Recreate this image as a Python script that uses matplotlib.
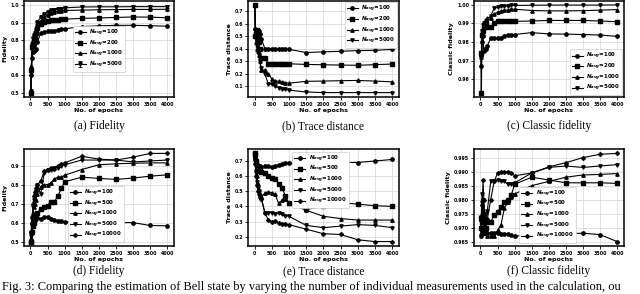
import numpy as np
import matplotlib
matplotlib.use("Agg")
import matplotlib.pyplot as plt

plt.rcParams['font.family'] = ['DejaVu Sans']
plt.rcParams['font.weight'] = 'bold'
plt.rcParams['mathtext.fontset'] = 'dejavusans'

# epochs at which the estimates were recorded
ep = [10, 25, 50, 75, 100, 125, 150, 200, 300, 400, 500, 600, 700, 800, 900,
      1000, 1500, 2000, 2500, 3000, 3500, 4000]

# top row: N_avg = 100, 200, 1000, 5000
navg_top = [100, 200, 1000, 5000]
fid_a = [
    [0.50, 0.60, 0.70, 0.73, 0.74, 0.745, 0.75, 0.79, 0.84, 0.845, 0.85, 0.85, 0.855, 0.86, 0.865, 0.865, 0.878, 0.882, 0.885, 0.885, 0.883, 0.880],
    [0.50, 0.63, 0.76, 0.78, 0.80, 0.82, 0.84, 0.87, 0.89, 0.905, 0.912, 0.915, 0.917, 0.918, 0.920, 0.920, 0.925, 0.927, 0.930, 0.933, 0.932, 0.928],
    [0.50, 0.65, 0.76, 0.80, 0.82, 0.83, 0.85, 0.90, 0.91, 0.93, 0.945, 0.955, 0.960, 0.965, 0.968, 0.970, 0.972, 0.974, 0.975, 0.976, 0.976, 0.977],
    [0.51, 0.62, 0.77, 0.81, 0.83, 0.84, 0.86, 0.905, 0.93, 0.95, 0.96, 0.97, 0.975, 0.978, 0.980, 0.985, 0.990, 0.991, 0.991, 0.992, 0.992, 0.992],
]
fid_a_err = [0]*10 + [0.008]*6 + [0.01]*6

td_b = [
    [0.75, 0.56, 0.55, 0.55, 0.55, 0.54, 0.52, 0.48, 0.40, 0.40, 0.40, 0.40, 0.40, 0.395, 0.395, 0.395, 0.37, 0.375, 0.38, 0.385, 0.387, 0.395],
    [0.75, 0.50, 0.52, 0.55, 0.50, 0.45, 0.40, 0.33, 0.33, 0.28, 0.275, 0.28, 0.28, 0.28, 0.28, 0.28, 0.275, 0.272, 0.27, 0.268, 0.273, 0.278],
    [0.75, 0.50, 0.45, 0.40, 0.38, 0.35, 0.30, 0.23, 0.23, 0.20, 0.16, 0.145, 0.14, 0.135, 0.13, 0.125, 0.14, 0.142, 0.145, 0.147, 0.142, 0.136],
    [0.75, 0.55, 0.48, 0.42, 0.38, 0.35, 0.30, 0.25, 0.20, 0.12, 0.115, 0.10, 0.09, 0.08, 0.075, 0.07, 0.055, 0.05, 0.05, 0.05, 0.05, 0.05],
]

cf_c = [
    [0.973, 0.967, 0.980, 0.983, 0.975, 0.976, 0.976, 0.978, 0.982, 0.982, 0.982, 0.982, 0.983, 0.984, 0.984, 0.984, 0.985, 0.9843, 0.9842, 0.984, 0.9837, 0.983],
    [0.974, 0.953, 0.984, 0.986, 0.988, 0.989, 0.990, 0.988, 0.988, 0.990, 0.991, 0.991, 0.991, 0.991, 0.991, 0.991, 0.9912, 0.9915, 0.9915, 0.9915, 0.9912, 0.9908],
    [0.973, 0.972, 0.985, 0.987, 0.990, 0.990, 0.990, 0.993, 0.993, 0.995, 0.996, 0.9965, 0.997, 0.997, 0.9975, 0.9975, 0.9968, 0.9966, 0.9966, 0.9967, 0.997, 0.9973],
    [0.974, 0.972, 0.986, 0.989, 0.990, 0.990, 0.991, 0.992, 0.994, 0.998, 0.9985, 0.999, 0.999, 0.9992, 0.9995, 0.9995, 0.9996, 0.9997, 0.9997, 0.9997, 0.9997, 0.9998],
]

# bottom row: N_avg = 100, 500, 1000, 5000, 10000
navg_bot = [100, 500, 1000, 5000, 10000]
fid_d = [
    [0.50, 0.55, 0.60, 0.62, 0.63, 0.63, 0.625, 0.625, 0.62, 0.63, 0.63, 0.62, 0.615, 0.61, 0.607, 0.605, 0.603, 0.602, 0.601, 0.60, 0.585, 0.583],
    [0.50, 0.50, 0.55, 0.58, 0.60, 0.62, 0.64, 0.65, 0.67, 0.68, 0.69, 0.71, 0.71, 0.74, 0.78, 0.815, 0.84, 0.833, 0.828, 0.835, 0.845, 0.852],
    [0.50, 0.52, 0.60, 0.65, 0.68, 0.70, 0.72, 0.75, 0.79, 0.80, 0.80, 0.81, 0.83, 0.84, 0.84, 0.85, 0.88, 0.905, 0.91, 0.913, 0.915, 0.915],
    [0.50, 0.53, 0.62, 0.68, 0.72, 0.74, 0.76, 0.80, 0.75, 0.86, 0.88, 0.88, 0.89, 0.89, 0.90, 0.905, 0.93, 0.93, 0.93, 0.92, 0.925, 0.93],
    [0.50, 0.55, 0.63, 0.70, 0.74, 0.76, 0.78, 0.80, 0.82, 0.87, 0.88, 0.89, 0.885, 0.90, 0.91, 0.915, 0.95, 0.935, 0.93, 0.945, 0.965, 0.965],
]

td_e = [
    [0.75, 0.72, 0.69, 0.68, 0.67, 0.665, 0.665, 0.66, 0.67, 0.665, 0.66, 0.67, 0.675, 0.68, 0.685, 0.685, 0.69, 0.69, 0.69, 0.69, 0.70, 0.71],
    [0.75, 0.74, 0.70, 0.66, 0.64, 0.635, 0.635, 0.63, 0.62, 0.60, 0.59, 0.58, 0.55, 0.52, 0.47, 0.42, 0.38, 0.40, 0.425, 0.415, 0.405, 0.40],
    [0.75, 0.72, 0.65, 0.60, 0.55, 0.51, 0.48, 0.46, 0.49, 0.495, 0.49, 0.48, 0.42, 0.44, 0.45, 0.42, 0.375, 0.335, 0.32, 0.31, 0.31, 0.31],
    [0.75, 0.70, 0.62, 0.56, 0.52, 0.50, 0.47, 0.45, 0.36, 0.36, 0.36, 0.35, 0.355, 0.35, 0.34, 0.335, 0.275, 0.26, 0.27, 0.28, 0.275, 0.26],
    [0.75, 0.68, 0.60, 0.54, 0.50, 0.48, 0.46, 0.45, 0.36, 0.31, 0.30, 0.305, 0.29, 0.285, 0.285, 0.28, 0.25, 0.22, 0.215, 0.18, 0.168, 0.168],
]

cf_f = [
    [0.9735, 0.967, 0.969, 0.968, 0.968, 0.968, 0.968, 0.968, 0.968, 0.968, 0.968, 0.9677, 0.9677, 0.9677, 0.9673, 0.967, 0.9672, 0.9675, 0.9678, 0.968, 0.9675, 0.965],
    [0.9735, 0.970, 0.972, 0.975, 0.970, 0.968, 0.970, 0.972, 0.972, 0.9745, 0.9755, 0.9775, 0.979, 0.980, 0.9815, 0.9855, 0.988, 0.987, 0.986, 0.986, 0.986, 0.9858],
    [0.973, 0.968, 0.980, 0.976, 0.973, 0.970, 0.968, 0.967, 0.967, 0.967, 0.969, 0.971, 0.977, 0.979, 0.981, 0.982, 0.985, 0.9865, 0.988, 0.9888, 0.989, 0.9893],
    [0.973, 0.972, 0.982, 0.980, 0.975, 0.972, 0.970, 0.976, 0.9865, 0.9865, 0.987, 0.9865, 0.9865, 0.9855, 0.9855, 0.986, 0.9895, 0.9915, 0.992, 0.9915, 0.992, 0.9925],
    [0.973, 0.974, 0.978, 0.987, 0.980, 0.975, 0.973, 0.973, 0.980, 0.9865, 0.9895, 0.990, 0.9897, 0.990, 0.9895, 0.9885, 0.9895, 0.9917, 0.9932, 0.995, 0.9962, 0.9965],
]

markers_top = ['o', 's', '^', 'v']
markers_bot = ['o', 's', '^', 'v', 'P']

W, H = 640, 294
fig = plt.figure(figsize=(W/100, H/100), dpi=100)

def px_axes(x0, y0, x1, y1):
    return fig.add_axes([x0/W, 1 - y1/H, (x1 - x0)/W, (y1 - y0)/H])

def style(ax, ylabel):
    ax.grid(True, color='#d4d4d4', lw=0.5)
    ax.set_axisbelow(True)
    for s in ax.spines.values():
        s.set_linewidth(1.1)
    ax.tick_params(labelsize=3.4, length=2, width=0.6, pad=1.5)
    ax.set_xticks(range(0, 4001, 500))
    ax.set_xlabel('No. of epochs', fontsize=4.6, fontweight='bold', labelpad=1)
    ax.set_ylabel(ylabel, fontsize=4.6, fontweight='bold', labelpad=2)

def draw(ax, data, navg, markers, err=None):
    for i, (vals, n, m) in enumerate(zip(data, navg, markers)):
        lab = r'$\mathbfit{N_{avg}}$=%d' % n
        if err is not None and i == len(data) - 1:
            ax.errorbar(ep, vals, yerr=err, color='black', marker=m, ms=2.4,
                        lw=0.8, elinewidth=0.7, capsize=1.2, capthick=0.6, label=lab)
        else:
            ax.plot(ep, vals, color='black', marker=m, ms=2.4, lw=0.8, label=lab)

def legend(ax, **kw):
    leg = ax.legend(fontsize=4.0, handlelength=2.0, borderpad=0.35,
                    labelspacing=0.08, handletextpad=0.6, borderaxespad=0.3,
                    framealpha=1, **kw)
    leg.get_frame().set_linewidth(0.5)

cols = [(24, 174), (248, 399), (474, 624)]
top_y = (0.5, 97)
bot_y = (149, 246)

ax = px_axes(cols[0][0], top_y[0], cols[0][1], top_y[1])
draw(ax, fid_a, navg_top, markers_top, err=fid_a_err)
style(ax, 'Fidelity')
ax.set_yticks([0.5, 0.6, 0.7, 0.8, 0.9, 1.0])
legend(ax, loc='center', bbox_to_anchor=(0.5, 0.5))

ax = px_axes(cols[1][0], top_y[0], cols[1][1], top_y[1])
draw(ax, td_b, navg_top, markers_top)
style(ax, 'Trace distance')
legend(ax, loc='upper right')

ax = px_axes(cols[2][0], top_y[0], cols[2][1], top_y[1])
draw(ax, cf_c, navg_top, markers_top)
style(ax, 'Classic fidelity')
ax.set_yticks([0.96, 0.97, 0.98, 0.99, 1.00])
ax.yaxis.set_major_formatter(matplotlib.ticker.FormatStrFormatter('%.2f'))
legend(ax, loc='lower right')

ax = px_axes(cols[0][0], bot_y[0], cols[0][1], bot_y[1])
draw(ax, fid_d, navg_bot, markers_bot)
style(ax, 'Fidelity')
ax.set_yticks([0.5, 0.6, 0.7, 0.8, 0.9])
legend(ax, loc='lower center', bbox_to_anchor=(0.48, 0.02))

ax = px_axes(cols[1][0], bot_y[0], cols[1][1], bot_y[1])
draw(ax, td_e, navg_bot, markers_bot)
style(ax, 'Trace distance')
legend(ax, loc='upper center', bbox_to_anchor=(0.48, 0.99))

ax = px_axes(cols[2][0], bot_y[0], cols[2][1], bot_y[1])
draw(ax, cf_f, navg_bot, markers_bot)
style(ax, 'Classic fidelity')
ax.set_yticks([0.965, 0.970, 0.975, 0.980, 0.985, 0.990, 0.995])
ax.yaxis.set_major_formatter(matplotlib.ticker.FormatStrFormatter('%.3f'))
legend(ax, loc='lower center', bbox_to_anchor=(0.49, 0.01))

captions_top = ['(a) Fidelity', '(b) Trace distance', '(c) Classic fidelity']
captions_bot = ['(d) Fidelity', '(e) Trace distance', '(f) Classic fidelity']
for (x0, x1), c1, c2 in zip(cols, captions_top, captions_bot):
    fig.text((x0 + x1)/2/W, 1 - 126/H, c1, ha='center', va='center',
             family='Liberation Serif', fontweight='normal', fontsize=8.3)
    fig.text((x0 + x1)/2/W, 1 - 271/H, c2, ha='center', va='center',
             family='Liberation Serif', fontweight='normal', fontsize=8.3)

fig.text(2/W, 1/H,
         'Fig. 3: Comparing the estimation of Bell state by varying the number of '
         'individual measurements used in the calculation, ou',
         ha='left', va='bottom', family='Liberation Serif', fontweight='normal',
         fontsize=8.9)

fig.savefig('out.png', dpi=100)
